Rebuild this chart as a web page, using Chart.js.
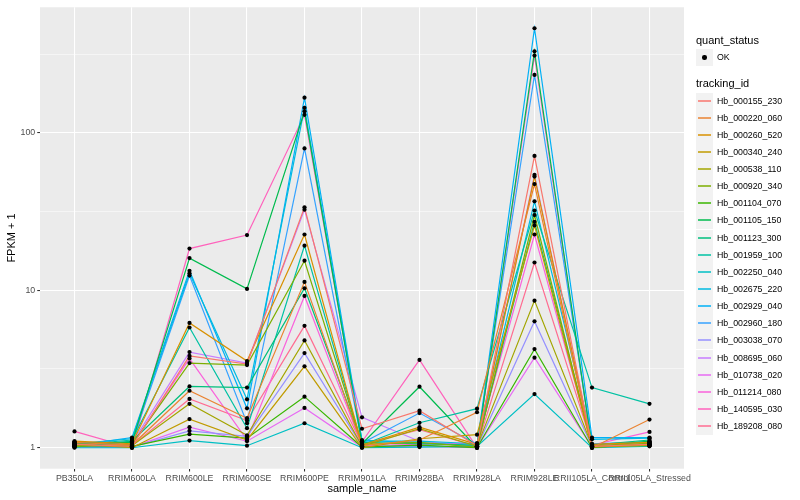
<!DOCTYPE html>
<html>
<head>
<meta charset="utf-8">
<script src="https://cdn.jsdelivr.net/npm/chart.js@4.4.1/dist/chart.umd.min.js"></script>
<style>
  body { margin: 0; background: #ffffff; font-family: "Liberation Sans", Arial, sans-serif; }
  #wrap { position: relative; width: 800px; height: 500px; }
  #legend { position: absolute; left: 696px; top: 0; color: #000; }
  .ttl { position: absolute; left: 0; font-size: 11px; line-height: 13px; white-space: nowrap; }
  .key { position: absolute; left: 0; width: 17px; height: 17px; background: #f2f2f2; }
  .lab { position: absolute; left: 21px; font-size: 8.8px; line-height: 17px; white-space: nowrap; }
</style>
</head>
<body>
<div id="wrap">
  <canvas id="fpkmChart"></canvas>
  <div id="legend"></div>
</div>
<script>
// x categories
const samples = ['PB350LA', 'RRIM600LA', 'RRIM600LE', 'RRIM600SE', 'RRIM600PE', 'RRIM901LA',
                 'RRIM928BA', 'RRIM928LA', 'RRIM928LE', 'RRII105LA_Control', 'RRII105LA_Stressed'];

// tracking ids (legend order)
const trackingIds = ['Hb_000155_230', 'Hb_000220_060', 'Hb_000260_520', 'Hb_000340_240', 'Hb_000538_110',
                     'Hb_000920_340', 'Hb_001104_070', 'Hb_001105_150', 'Hb_001123_300', 'Hb_001959_100',
                     'Hb_002250_040', 'Hb_002675_220', 'Hb_002929_040', 'Hb_002960_180', 'Hb_003038_070',
                     'Hb_008695_060', 'Hb_010738_020', 'Hb_011214_080', 'Hb_140595_030', 'Hb_189208_080'];

// FPKM + 1, one row per tracking id, one value per sample
const fpkm = [
  [1.05, 1.02, 3.83, 3.40, 33.6, 1.32, 1.72, 1.03, 71.3, 1.02, 1.05],
  [1.08, 1.04, 2.30, 1.54, 11.3, 1.03, 1.12, 1.68, 47.2, 1.00, 1.51],
  [1.10, 1.06, 6.20, 3.55, 22.6, 1.04, 1.35, 1.05, 52.7, 1.05, 1.08],
  [1.06, 1.00, 1.52, 1.12, 3.29, 1.00, 1.14, 1.21, 25.8, 1.01, 1.04],
  [1.04, 1.03, 1.90, 1.20, 4.80, 1.02, 1.32, 1.02, 8.59, 1.03, 1.06],
  [1.02, 1.05, 3.45, 3.35, 15.4, 1.05, 1.08, 1.01, 30.0, 1.02, 1.03],
  [1.03, 1.02, 1.22, 1.15, 2.11, 1.01, 1.04, 1.00, 4.23, 1.00, 1.07],
  [1.07, 1.08, 16.0, 10.2, 137, 1.06, 2.44, 1.00, 329, 1.01, 1.10],
  [1.01, 1.10, 2.45, 2.41, 10.3, 1.08, 1.06, 1.04, 27.2, 1.04, 1.12],
  [1.04, 1.12, 5.80, 1.33, 19.2, 1.04, 1.44, 1.77, 32.1, 2.41, 1.90],
  [1.00, 1.00, 1.11, 1.03, 1.43, 1.00, 1.01, 1.02, 2.19, 1.00, 1.02],
  [1.06, 1.14, 12.8, 2.03, 144, 1.10, 1.10, 1.06, 36.7, 1.13, 1.15],
  [1.03, 1.16, 13.3, 1.78, 167, 1.12, 1.07, 1.03, 461, 1.16, 1.16],
  [1.05, 1.09, 12.4, 1.43, 79.6, 1.07, 1.66, 1.05, 233, 1.06, 1.09],
  [1.02, 1.01, 1.28, 1.18, 3.99, 1.02, 1.03, 1.01, 6.35, 1.02, 1.04],
  [1.08, 1.07, 4.05, 3.45, 32.5, 1.56, 1.10, 1.02, 54.1, 1.03, 1.05],
  [1.01, 1.01, 1.35, 1.10, 1.79, 1.01, 1.02, 1.00, 3.73, 1.01, 1.03],
  [1.09, 1.04, 3.68, 1.12, 9.20, 1.03, 1.05, 1.07, 22.6, 1.04, 1.26],
  [1.27, 1.00, 18.4, 22.4, 130, 1.09, 3.61, 1.00, 309, 1.00, 1.06],
  [1.06, 1.03, 2.04, 1.49, 5.94, 1.05, 1.30, 1.02, 15.0, 1.05, 1.08]
];

// ggplot default hue palette, 20 levels
const colors = ['#F8766D', '#EA8331', '#D89000', '#C09B00', '#A3A500', '#7CAE00', '#39B600', '#00BB4E',
                '#00BF7D', '#00C1A3', '#00BFC4', '#00BAE0', '#00B0F6', '#35A2FF', '#9590FF', '#C77CFF',
                '#E76BF3', '#FA62DB', '#FF62BC', '#FF6C91'];

const yMajor = [1, 10, 100];
const yMinor = [Math.sqrt(10), Math.sqrt(1000), Math.sqrt(100000)];

// y limits like ggplot: 5% expansion in log space
const allVals = fpkm.flat();
const lo = Math.log10(Math.min(...allVals));
const hi = Math.log10(Math.max(...allVals));
const pad = (hi - lo) * 0.05;

const lineSets = fpkm.map((row, i) => ({
    type: 'line',
    label: trackingIds[i],
    data: row.map((v, j) => ({x: j, y: v})),
    borderColor: colors[i],
    borderWidth: 1.2,
    pointRadius: 0,
    tension: 0,
    fill: false,
    order: 1
}));

// all points on top of the lines
const pointSet = {
    type: 'scatter',
    label: 'OK',
    data: fpkm.flatMap(row => row.map((v, j) => ({x: j, y: v}))),
    backgroundColor: '#000000',
    borderColor: '#000000',
    pointRadius: 2.1,
    borderWidth: 0,
    order: 0
};

const panelBg = {
    id: 'panelBg',
    beforeDraw(chart) {
        const {ctx, chartArea: a} = chart;
        ctx.save();
        ctx.fillStyle = '#EBEBEB';
        ctx.fillRect(a.left, a.top, a.right - a.left, a.bottom - a.top);
        ctx.restore();
    }
};

const font = "'Liberation Sans', Arial, sans-serif";
const isMajor = v => yMajor.some(m => Math.abs(m - v) < 1e-9);

const ctx = document.getElementById('fpkmChart');
const fpkmChart = new Chart(ctx, {
    data: { datasets: [...lineSets, pointSet] },
    options: {
        responsive: true,
        maintainAspectRatio: false,
        animation: false,
        layout: { padding: { top: 5, right: 116, left: 0, bottom: 0 } },
        scales: {
            x: {
                type: 'linear',
                bounds: 'data',
                min: -0.6,
                max: samples.length - 1 + 0.6,
                afterBuildTicks: scale => { scale.ticks = samples.map((s, i) => ({value: i})); },
                afterFit: scale => { scale.height = 31.3; },
                ticks: {
                    autoSkip: false,
                    maxRotation: 0,
                    minRotation: 0,
                    padding: 1.5,
                    color: '#4D4D4D',
                    font: { family: font, size: 8.8 },
                    callback: v => samples[v]
                },
                grid: {
                    color: '#FFFFFF',
                    lineWidth: 1.07,
                    tickColor: '#333333',
                    tickLength: 2.75,
                    tickWidth: 1.07
                },
                border: { display: false },
                title: {
                    display: true,
                    text: 'sample_name',
                    color: '#000000',
                    font: { family: font, size: 11, lineHeight: 1 },
                    padding: { top: 0, bottom: 5.5 }
                }
            },
            y: {
                type: 'logarithmic',
                bounds: 'data',
                min: Math.pow(10, lo - pad),
                max: Math.pow(10, hi + pad),
                afterBuildTicks: scale => {
                    scale.ticks = [...yMajor, ...yMinor].sort((a, b) => a - b).map(v => ({value: v, major: isMajor(v)}));
                },
                afterFit: scale => { scale.width = 40; },
                ticks: {
                    autoSkip: false,
                    padding: 2,
                    color: '#4D4D4D',
                    font: { family: font, size: 8.8 },
                    callback: v => isMajor(v) ? String(Math.round(v)) : ''
                },
                grid: {
                    color: '#FFFFFF',
                    lineWidth: c => (c.tick && isMajor(c.tick.value)) ? 1.07 : 0.53,
                    tickColor: c => (c.tick && isMajor(c.tick.value)) ? '#333333' : 'rgba(0,0,0,0)',
                    tickLength: 2.75,
                    tickWidth: 1.07
                },
                border: { display: false },
                title: {
                    display: true,
                    text: 'FPKM + 1',
                    color: '#000000',
                    font: { family: font, size: 11, lineHeight: 1 },
                    padding: { top: 6.5, bottom: 0 }
                }
            }
        },
        plugins: {
            legend: { display: false },
            tooltip: { enabled: false }
        }
    },
    plugins: [panelBg]
});

// ggplot style legend on the right
const legend = document.getElementById('legend');
let html = '<div class="ttl" style="top:34px">quant_status</div>';
html += '<div class="key" style="top:49px"><div style="position:absolute;left:6px;top:6px;width:4.5px;height:4.5px;border-radius:50%;background:#000"></div></div>';
html += '<div class="lab" style="top:49px">OK</div>';
html += '<div class="ttl" style="top:77px">tracking_id</div>';
trackingIds.forEach((id, i) => {
    const top = Math.round(92.5 + i * 17.14);
    html += '<div class="key" style="top:' + top + 'px"><div style="position:absolute;left:2px;width:13px;top:7px;height:2px;opacity:0.75;background:' + colors[i] + '"></div></div>';
    html += '<div class="lab" style="top:' + top + 'px">' + id + '</div>';
});
legend.innerHTML = html;
</script>
</body>
</html>
